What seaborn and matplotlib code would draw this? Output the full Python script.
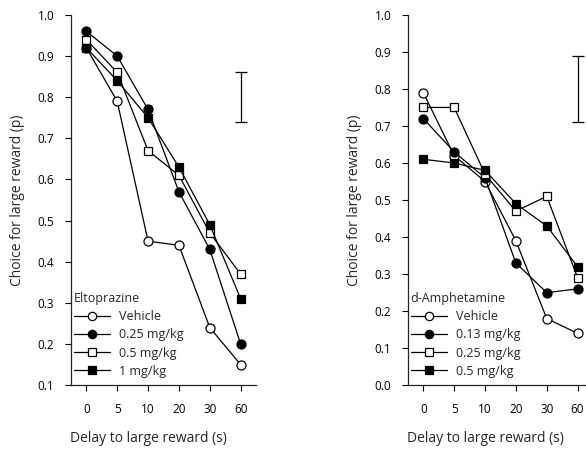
import matplotlib
matplotlib.use("Agg")
import matplotlib.pyplot as plt
import seaborn as sns
import pandas as pd
from matplotlib.lines import Line2D

sns.set_style("ticks")
plt.rcParams['font.family'] = ['Open Sans', 'DejaVu Sans']

delays = ["0", "5", "10", "20", "30", "60"]

elto_labels = ["Vehicle", "0.25 mg/kg", "0.5 mg/kg", "1 mg/kg"]
elto_vehicle = [0.92, 0.79, 0.45, 0.44, 0.24, 0.15]
elto_025 = [0.96, 0.90, 0.77, 0.57, 0.43, 0.20]
elto_05 = [0.94, 0.86, 0.67, 0.61, 0.47, 0.37]
elto_1 = [0.92, 0.84, 0.75, 0.63, 0.49, 0.31]
elto_err = (0.74, 0.86)

amph_labels = ["Vehicle", "0.13 mg/kg", "0.25 mg/kg", "0.5 mg/kg"]
amph_vehicle = [0.79, 0.62, 0.55, 0.39, 0.18, 0.14]
amph_013 = [0.72, 0.63, 0.56, 0.33, 0.25, 0.26]
amph_025 = [0.75, 0.75, 0.57, 0.47, 0.51, 0.29]
amph_05 = [0.61, 0.60, 0.58, 0.49, 0.43, 0.32]
amph_err = (0.71, 0.89)

styles = [("o", "white"), ("o", "black"), ("s", "white"), ("s", "black")]

fig = plt.figure(figsize=(5.86, 4.5), dpi=100)
ax1 = fig.add_axes([0.121, 0.144, 0.316, 0.823])
ax2 = fig.add_axes([0.696, 0.144, 0.316, 0.823])


def draw(ax, series, labels, err, title, ylim, yticks):
    pos = list(range(len(delays)))
    handles = []
    for vals, lab, (mk, fc) in zip(series, labels, styles):
        df = pd.DataFrame({"pos": pos, "val": vals})
        ms = 6.5 if mk == "o" else 6
        sns.lineplot(data=df, x="pos", y="val", ax=ax, color="black", lw=0.9,
                     marker=mk, markersize=ms,
                     markerfacecolor=fc, markeredgecolor="black",
                     markeredgewidth=0.9, legend=False)
        handles.append(Line2D([], [], color="black", lw=0.9, marker=mk,
                              markersize=ms - 0.5,
                              markerfacecolor=fc, markeredgecolor="black",
                              markeredgewidth=0.9, label=lab))
    lo, hi = err
    ax.errorbar([len(delays) - 1], [(lo + hi) / 2], yerr=[(hi - lo) / 2],
                color="black", lw=0.9, capsize=4, capthick=0.9, fmt="none")
    ax.set_xlim(-0.5, len(delays) - 0.5)
    ax.set_ylim(*ylim)
    ax.set_yticks(yticks)
    ax.set_yticklabels([f"{t:.1f}" for t in yticks])
    ax.set_xticks(pos)
    ax.set_xticklabels(delays)
    ax.tick_params(labelsize=8.5, length=4, width=0.8, colors="black")
    ax.tick_params(axis="y", pad=8)
    ax.tick_params(axis="x", pad=9)
    for s in ["top", "right"]:
        ax.spines[s].set_visible(False)
    for s in ["left", "bottom"]:
        ax.spines[s].set_linewidth(0.9)
    ax.set_xlabel("Delay to large reward (s)", fontsize=10)
    ax.xaxis.set_label_coords(0.418, -0.125)
    ax.set_ylabel("Choice for large reward (p)", fontsize=10, labelpad=9)
    leg = ax.legend(handles=handles, title=title, loc="lower left",
                    bbox_to_anchor=(0.015, 0.02),
                    frameon=False, fontsize=9, title_fontsize=9,
                    handlelength=2.9, handletextpad=0.7, labelspacing=0.42,
                    borderaxespad=0.0, borderpad=0.0, alignment="left")
    return leg


draw(ax1, [elto_vehicle, elto_025, elto_05, elto_1], elto_labels, elto_err,
     "Eltoprazine", (0.1, 1.0), [0.1, 0.2, 0.3, 0.4, 0.5, 0.6, 0.7, 0.8, 0.9, 1.0])
draw(ax2, [amph_vehicle, amph_013, amph_025, amph_05], amph_labels, amph_err,
     "d-Amphetamine", (0.0, 1.0), [0.0, 0.1, 0.2, 0.3, 0.4, 0.5, 0.6, 0.7, 0.8, 0.9, 1.0])

fig.savefig("out.png", dpi=100)
